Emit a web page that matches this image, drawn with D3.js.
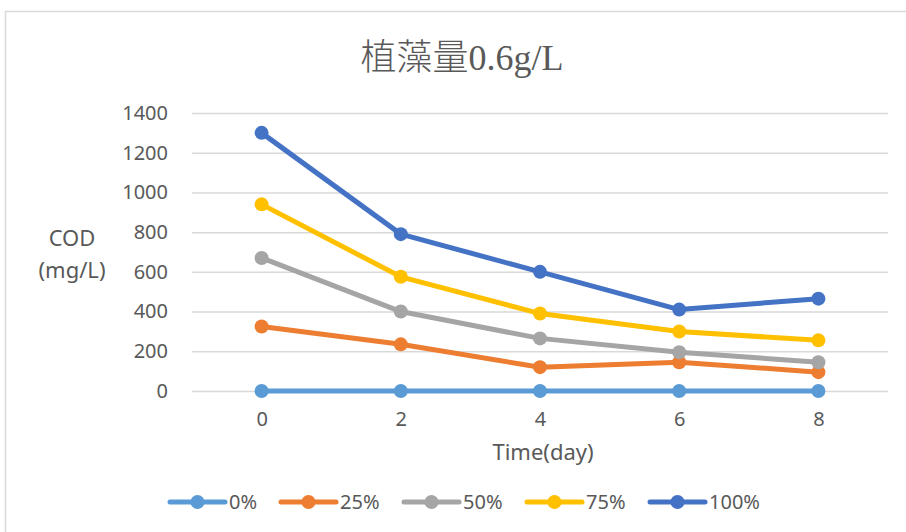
<!DOCTYPE html>
<html>
<head>
<meta charset="utf-8">
<script src="https://cdn.jsdelivr.net/npm/d3@7"></script>
<style>
  html, body { margin: 0; padding: 0; background: #fff; }
  svg { display: block; }
</style>
</head>
<body>
<svg id="chart" width="906" height="532"></svg>
<script>
// Sampling days and COD readings (mg/L) for each dosing ratio
const days = [0, 2, 4, 6, 8];
const seriesNames = ["0%", "25%", "50%", "75%", "100%"];
const cod0   = [0, 0, 0, 0, 0];
const cod25  = [325, 235, 120, 145, 95];
const cod50  = [670, 400, 265, 195, 145];
const cod75  = [940, 575, 390, 300, 255];
const cod100 = [1300, 790, 600, 410, 465];
const yTicks = [0, 200, 400, 600, 800, 1000, 1200, 1400];
const colors = ["#5B9BD5", "#ED7D31", "#A5A5A5", "#FFC000", "#4472C4"];

const series = [cod0, cod25, cod50, cod75, cod100].map((vals, i) => ({
  name: seriesNames[i], color: colors[i],
  points: days.map((d, j) => ({ day: d, value: vals[j] }))
}));

const svg = d3.select("#chart");
const textColor = "#595959";
const font = "'Noto Sans', 'Open Sans', sans-serif";

// Outer chart frame
svg.append("rect")
  .attr("x", 5.5).attr("y", 11.5).attr("width", 906).attr("height", 540)
  .attr("fill", "#fff").attr("stroke", "#d9d9d9").attr("stroke-width", 1.5);

const plot = { left: 192, right: 888, top: 113, bottom: 391 };

const x = d3.scalePoint().domain(days).range([plot.left, plot.right]).padding(0.5);
const y = d3.scaleLinear().domain([0, 1400]).range([plot.bottom, plot.top]);

// Horizontal gridlines + value labels
const yAxis = d3.axisLeft(y).tickValues(yTicks).tickFormat(d3.format("d"))
  .tickSize(-(plot.right - plot.left)).tickPadding(24);
const gy = svg.append("g").attr("transform", `translate(${plot.left},0)`).call(yAxis);
gy.select(".domain").remove();
gy.selectAll(".tick line").attr("stroke", "#d9d9d9").attr("stroke-width", 1.5);
gy.selectAll(".tick text").attr("fill", textColor).style("font-family", font).style("font-size", "20px");

// Day labels
const xAxis = d3.axisBottom(x).tickSize(0).tickPadding(21);
const gx = svg.append("g").attr("transform", `translate(0,${plot.bottom})`).call(xAxis);
gx.select(".domain").remove();
gx.selectAll(".tick text").attr("fill", textColor).style("font-family", font).style("font-size", "20px");

// Lines and markers
const line = d3.line().x(d => x(d.day)).y(d => y(d.value));
const gs = svg.append("g");
series.forEach(s => {
  const g = gs.append("g");
  g.append("path").datum(s.points)
    .attr("d", line).attr("fill", "none")
    .attr("stroke", s.color).attr("stroke-width", 5)
    .attr("stroke-linejoin", "round").attr("stroke-linecap", "round");
  g.selectAll("circle").data(s.points).join("circle")
    .attr("cx", d => x(d.day)).attr("cy", d => y(d.value)).attr("r", 7)
    .attr("fill", s.color);
});

// Title
svg.append("text")
  .attr("x", 462).attr("y", 70).attr("text-anchor", "middle")
  .attr("fill", textColor)
  .style("font-family", "'Liberation Serif', 'Noto Sans CJK TC', serif")
  .style("font-weight", 300)
  .style("font-size", "36px")
  .text("植藻量0.6g/L");

// Axis titles
const yTitle = svg.append("text").attr("text-anchor", "middle").attr("fill", textColor)
  .style("font-family", font).style("font-size", "22px");
yTitle.append("tspan").attr("x", 72).attr("y", 246).text("COD");
yTitle.append("tspan").attr("x", 72).attr("y", 278).text("(mg/L)");

svg.append("text")
  .attr("x", 543).attr("y", 460).attr("text-anchor", "middle")
  .attr("fill", textColor).style("font-family", font).style("font-size", "22px")
  .text("Time(day)");

// Legend
const legendX = [170, 281, 404, 527, 650];
const legend = svg.append("g");
series.forEach((s, i) => {
  const g = legend.append("g").attr("transform", `translate(${legendX[i]},502)`);
  g.append("line").attr("x1", 0).attr("x2", 55).attr("y1", 0).attr("y2", 0)
    .attr("stroke", s.color).attr("stroke-width", 5).attr("stroke-linecap", "round");
  g.append("circle").attr("cx", 27.5).attr("cy", 0).attr("r", 7).attr("fill", s.color);
  g.append("text").attr("x", 59).attr("y", 7).attr("fill", textColor)
    .style("font-family", font).style("font-size", "20px").text(s.name);
});
</script>
</body>
</html>
